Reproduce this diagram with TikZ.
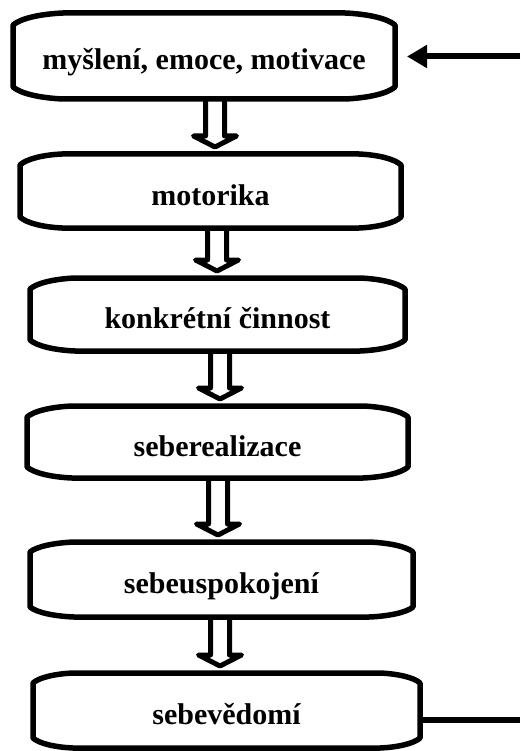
\documentclass[tikz,border=0pt]{standalone}
\usepackage{fontspec}
\setmainfont{Liberation Serif}
\usetikzlibrary{arrows.meta,calc}

\tikzset{
  stage/.style={minimum width=#1, inner sep=0pt, outer sep=0pt,
    text height=30pt, text depth=2pt,
    font=\fontsize{30pt}{36pt}\selectfont\bfseries},
  stageline/.style={line width=5.5pt, line join=round},
  hollowarrow/.style={line width=5pt, line join=round,
    to path={let \p1=(\tikztostart), \p2=(\tikztotarget) in
      (\x1-9.5pt,\y1) -- (\x1-9.5pt,\y2+18pt) -- (\x1-21.5pt,\y2+18pt)
      -- (\x1,\y2+7pt) -- (\x1+21.5pt,\y2+18pt) -- (\x1+9.5pt,\y2+18pt)
      -- (\x1+9.5pt,\y1)}},
  feed/.style={line width=6pt}
}

% outline with bevelled corners around a node: #1 node, #2 corner width, #3 corner height
\newcommand\stageoutline[3]{%
  \draw[stageline]
    ([yshift=-#3]#1.north west)
      .. controls ([xshift=0.15*#2,yshift=-0.45*#3]#1.north west)
              and ([xshift=0.55*#2,yshift=-0.08*#3]#1.north west)
      .. ([xshift=#2]#1.north west)
    -- ([xshift=-#2]#1.north east)
      .. controls ([xshift=-0.55*#2,yshift=-0.08*#3]#1.north east)
              and ([xshift=-0.15*#2,yshift=-0.45*#3]#1.north east)
      .. ([yshift=-#3]#1.north east)
    -- ([yshift=#3]#1.south east)
      .. controls ([xshift=-0.15*#2,yshift=0.45*#3]#1.south east)
              and ([xshift=-0.55*#2,yshift=0.08*#3]#1.south east)
      .. ([xshift=-#2]#1.south east)
    -- ([xshift=#2]#1.south west)
      .. controls ([xshift=0.55*#2,yshift=0.08*#3]#1.south west)
              and ([xshift=0.15*#2,yshift=0.45*#3]#1.south west)
      .. ([yshift=#3]#1.south west)
    -- cycle;}

\begin{document}
\begin{tikzpicture}[x=1pt,y=-1pt]
\useasboundingbox[fill=white] (0,0) rectangle (520,751);

% stages of the chain
\node[stage=382pt, minimum height=86pt] (b1) at (204,56)    {myšlení, emoce, motivace};
\node[stage=381pt, minimum height=74pt] (b2) at (210.5,191) {motorika};
\node[stage=375pt, minimum height=73pt] (b3) at (217.5,314.5) {konkrétní činnost};
\node[stage=381pt, minimum height=72pt] (b4) at (217.5,442) {seberealizace};
\node[stage=383pt, minimum height=75pt] (b5) at (221.5,579.5) {sebeuspokojení};
\node[stage=387pt, minimum height=75pt] (b6) at (226.5,710.5) {sebevědomí};

\stageoutline{b1}{50pt}{12pt}
\stageoutline{b2}{42pt}{11pt}
\stageoutline{b3}{45pt}{11pt}
\stageoutline{b4}{45pt}{11pt}
\stageoutline{b5}{44pt}{10pt}
\stageoutline{b6}{40pt}{10pt}

% hollow arrows between the stages
\draw[hollowarrow] (215,0 |- b1.south) to (b2.north);
\draw[hollowarrow] (217,0 |- b2.south) to (b3.north);
\draw[hollowarrow] (220,0 |- b3.south) to (b4.north);
\draw[hollowarrow] (218,0 |- b4.south) to (b5.north);
\draw[hollowarrow] (220,0 |- b5.south) to (b6.north);

% feedback loop ends at the right border
\coordinate (inA) at (520,56.5);
\coordinate (outB) at (520,719.5);
\draw[feed, -{Triangle[length=20pt,width=22pt]}] (inA) -- ([xshift=12pt,yshift=-0.5pt]b1.east);
\draw[feed] ([yshift=-9pt]b6.east) -- (outB);
\end{tikzpicture}
\end{document}
